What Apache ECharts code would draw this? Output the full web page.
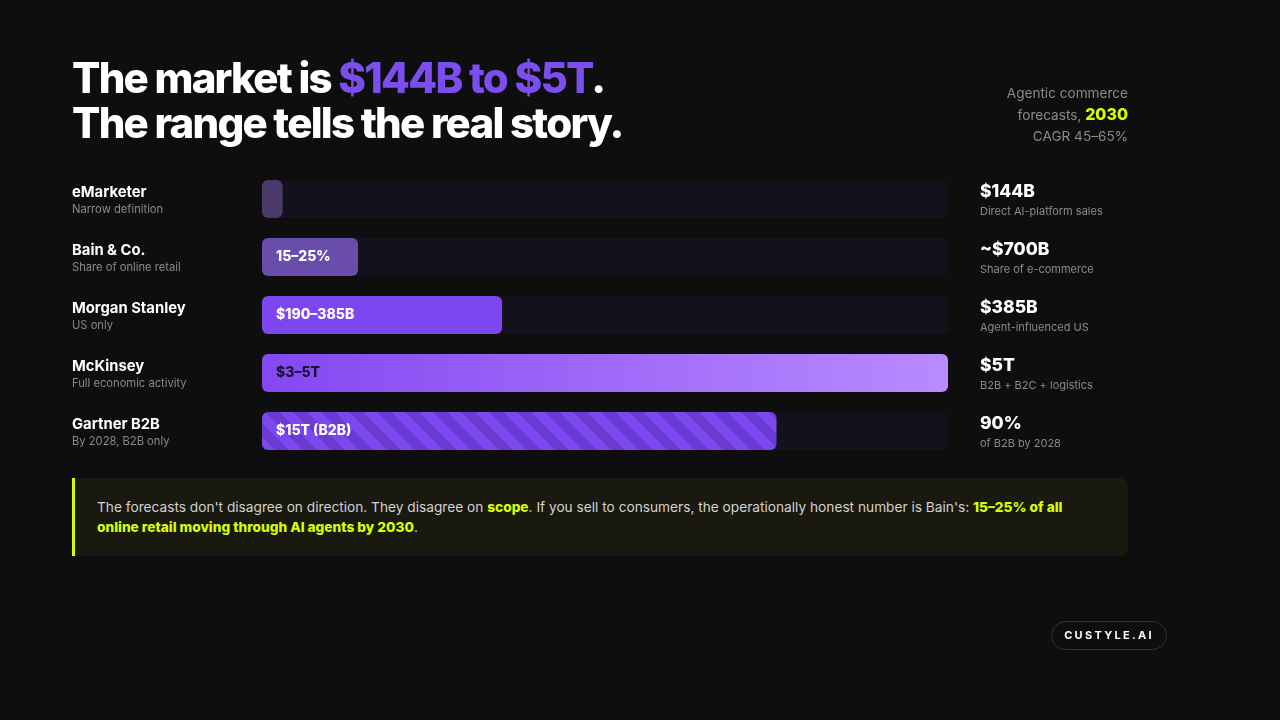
<!DOCTYPE html>
<html>
<head>
<meta charset="utf-8">
<script src="https://cdn.jsdelivr.net/npm/echarts@6/dist/echarts.min.js"></script>
<style>
  html, body { margin: 0; padding: 0; background: #0e0e0e; }
  body { width: 1280px; height: 720px; position: relative; overflow: hidden; font-family: Inter, "Noto Sans", sans-serif; }
  #chart { position: absolute; left: 0; top: 0; width: 1280px; height: 720px; }
  .title { position: absolute; left: 72px; top: 55px; color: #fff; font-weight: 800; font-size: 42px; line-height: 45px; letter-spacing: -0.042em; }
  .title .hl { color: #7c4ef0; }
  .side { position: absolute; right: 152px; top: 83px; text-align: right; color: #8a8a8a; font-size: 13.6px; line-height: 21px; }
  .side b { color: #d4ff00; font-size: 16px; font-weight: 800; }
  .callout { position: absolute; left: 72px; top: 478px; width: 1031px; height: 59px; padding: 19px 0 0 22px; background: #19190f; border-left: 3px solid #d4ff00; border-radius: 0 8px 8px 0; color: #d2d2d2; font-size: 13.7px; line-height: 20px; box-sizing: content-box; }
  .callout b { color: #d4ff00; font-weight: 800; }
  .logo { position: absolute; left: 1051px; top: 621px; width: 114px; height: 27px; border: 1px solid #333; border-radius: 15px; color: #fff; font-size: 11px; font-weight: 700; letter-spacing: 2.3px; text-align: center; line-height: 27px; }
</style>
</head>
<body>
<div id="chart"></div>
<div class="title">The market is <span class="hl">$144B to $5T</span>.<br>The range tells the real story.</div>
<div class="side">Agentic commerce<br>forecasts, <b>2030</b><br>CAGR 45–65%</div>
<div class="callout">The forecasts don't disagree on direction. They disagree on <b>scope</b>. If you sell to consumers, the operationally honest number is Bain's: <b>15–25% of all<br>online retail moving through AI agents by 2030</b>.</div>
<div class="logo">CUSTYLE.AI</div>
<script>
// forecast rows, top to bottom
var firms = ['eMarketer', 'Bain & Co.', 'Morgan Stanley', 'McKinsey', 'Gartner B2B'];
var scopes = ['Narrow definition', 'Share of online retail', 'US only', 'Full economic activity', 'By 2028, B2B only'];
// bar length as a share of the track (%)
var barShare = [3, 14, 35, 100, 75];
var barLabels = ['', '15–25%', '$190–385B', '$3–5T', '$15T (B2B)'];
var headlines = ['$144B', '~$700B', '$385B', '$5T', '90%'];
var notes = ['Direct AI-platform sales', 'Share of e-commerce', 'Agent-influenced US', 'B2B + B2C + logistics', 'of B2B by 2028'];

// diagonal stripes for the Gartner bar
function stripes() {
  var s = 28;
  var c = document.createElement('canvas');
  c.width = s; c.height = s;
  var ctx = c.getContext('2d');
  ctx.fillStyle = '#7d47ef';
  ctx.fillRect(0, 0, s, s);
  ctx.strokeStyle = '#6a3bd2';
  ctx.lineWidth = s / 2 / Math.SQRT2;
  for (var k = -2; k <= 2; k++) {
    ctx.beginPath();
    ctx.moveTo(k * s - s, -s);
    ctx.lineTo(k * s + 2 * s, 2 * s);
    ctx.stroke();
  }
  return c;
}

var barColors = [
  '#4a3a6c',
  '#6a4caa',
  '#7c46f0',
  new echarts.graphic.LinearGradient(0, 0, 1, 0, [
    { offset: 0, color: '#8447f2' },
    { offset: 1, color: '#b98bff' }
  ]),
  { image: stripes(), repeat: 'repeat' }
];

var chart = echarts.init(document.getElementById('chart'));
var option;

option = {
  backgroundColor: 'transparent',
  animation: false,
  grid: { left: 262, right: 332, top: 170, height: 290 },
  xAxis: { type: 'value', min: 0, max: 100, show: false },
  yAxis: [
    {
      type: 'category',
      data: firms,
      inverse: true,
      axisLine: { show: false },
      axisTick: { show: false },
      axisLabel: {
        align: 'left',
        margin: 190,
        formatter: function (v, i) {
          return '{name|' + v + '}\n{sub|' + scopes[i] + '}';
        },
        rich: {
          name: { fontFamily: 'Inter', fontSize: 14.8, fontWeight: 700, color: '#ffffff', lineHeight: 22 },
          sub: { fontFamily: 'Inter', fontSize: 11.2, color: '#8a8a8a', lineHeight: 12 }
        }
      }
    },
    {
      type: 'category',
      data: firms,
      inverse: true,
      position: 'right',
      axisLine: { show: false },
      axisTick: { show: false },
      axisLabel: {
        align: 'left',
        margin: 32,
        formatter: function (v, i) {
          return '{val|' + headlines[i] + '}\n{sub|' + notes[i] + '}';
        },
        rich: {
          val: { fontFamily: 'Inter', fontSize: 17.5, fontWeight: 800, color: '#ffffff', lineHeight: 25 },
          sub: { fontFamily: 'Inter', fontSize: 11, color: '#8a8a8a', lineHeight: 14 }
        }
      }
    }
  ],
  series: [
    {
      name: 'track',
      type: 'bar',
      silent: true,
      barWidth: 38,
      data: firms.map(function () { return 100; }),
      itemStyle: { color: '#13111b', borderRadius: 6 }
    },
    {
      name: 'forecast',
      type: 'bar',
      barWidth: 38,
      barGap: '-100%',
      data: barShare.map(function (v, i) {
        return {
          value: v,
          itemStyle: { color: barColors[i] },
          label: { color: i === 3 ? '#1b1035' : '#ffffff' }
        };
      }),
      itemStyle: { borderRadius: 6 },
      label: {
        show: true,
        position: 'insideLeft',
        distance: 14,
        fontFamily: 'Inter',
        fontSize: 14,
        fontWeight: 800,
        formatter: function (p) { return barLabels[p.dataIndex]; }
      }
    }
  ]
};

option && chart.setOption(option);
</script>
</body>
</html>
